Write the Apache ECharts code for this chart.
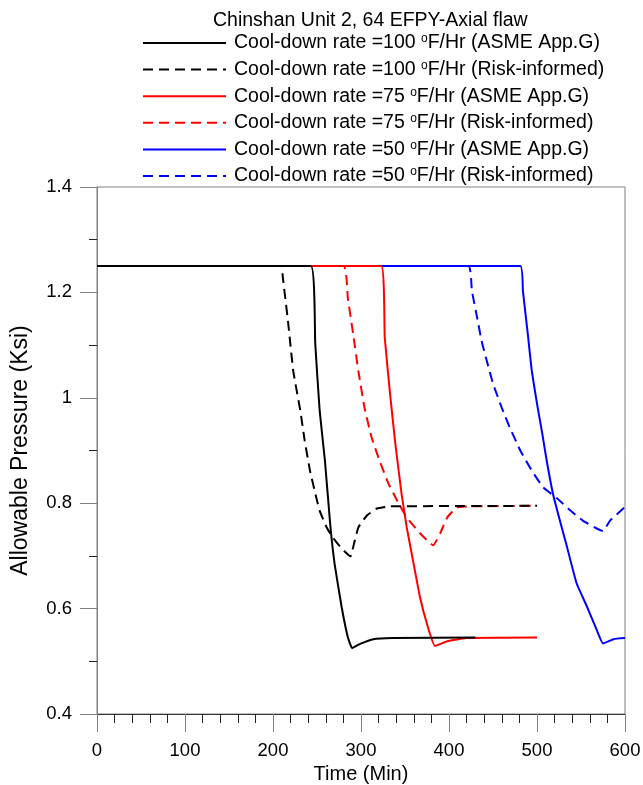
<!DOCTYPE html>
<html lang="en">
<head>
    <meta charset="UTF-8">
    <title>Chinshan Unit 2</title>
    <script src="https://cdn.jsdelivr.net/npm/echarts@6/dist/echarts.min.js"></script>
    <style>
        html, body { margin: 0; padding: 0; background: #fff; }
        #main { width: 643px; height: 785px; }
    </style>
</head>
<body>
<div id="main"></div>
<script>
    // [time (min), allowable pressure (ksi)]
    let asme100 = [[0, 1.25], [243, 1.25], [248, 1.103], [253, 0.976], [259, 0.881], [265, 0.76], [270, 0.685],
        [278, 0.603], [285, 0.546], [290, 0.525], [299, 0.533], [314, 0.542], [336, 0.544], [430, 0.545]];
    let risk100 = [[0, 1.25], [210, 1.25], [211, 1.231], [217, 1.146], [223, 1.051], [231, 0.976], [236, 0.919],
        [242, 0.862], [248, 0.819], [253, 0.786], [261, 0.754], [268, 0.735], [278, 0.714], [288, 0.699],
        [291, 0.716], [297, 0.754], [307, 0.777], [318, 0.79], [333, 0.794], [500, 0.795]];
    let asme75 = [[0, 1.25], [323, 1.25], [327, 1.114], [333, 1.008], [339, 0.913], [346, 0.819],
        [352, 0.754], [359, 0.692], [367, 0.622], [376, 0.565], [384, 0.529], [398, 0.538], [420, 0.544], [500, 0.545]];
    let risk75 = [[0, 1.25], [280, 1.25], [285, 1.19], [291, 1.122], [297, 1.051], [304, 0.981],
        [312, 0.925], [321, 0.881], [331, 0.838], [341, 0.805], [352, 0.773], [367, 0.743], [382, 0.72],
        [390, 0.743], [398, 0.773], [409, 0.792], [424, 0.794], [500, 0.795]];
    let asme50 = [[0, 1.25], [481, 1.25], [484, 1.203], [490, 1.114], [494, 1.052], [500, 0.989],
        [506, 0.932], [511, 0.881], [518, 0.819], [526, 0.767], [533, 0.724], [545, 0.648], [557, 0.603],
        [568, 0.559], [575, 0.534], [587, 0.542], [600, 0.544]];
    let risk50 = [[0, 1.25], [422, 1.25], [426, 1.203], [432, 1.152], [437, 1.108], [443, 1.07],
        [450, 1.027], [460, 0.981], [469, 0.944], [481, 0.9], [494, 0.862], [507, 0.83], [523, 0.809],
        [538, 0.786], [552, 0.767], [568, 0.752], [575, 0.747], [583, 0.767], [598, 0.79], [600, 0.793]];

    let seriesNames = [
        'Cool-down rate =100 {sup|o}F/Hr (ASME App.G)',
        'Cool-down rate =100 {sup|o}F/Hr (Risk-informed)',
        'Cool-down rate =75 {sup|o}F/Hr (ASME App.G)',
        'Cool-down rate =75 {sup|o}F/Hr (Risk-informed)',
        'Cool-down rate =50 {sup|o}F/Hr (ASME App.G)',
        'Cool-down rate =50 {sup|o}F/Hr (Risk-informed)'
    ];
    let seriesData = [asme100, risk100, asme75, risk75, asme50, risk50];
    let colors = ['#000000', '#000000', '#ff0000', '#ff0000', '#0000ff', '#0000ff'];
    let dashed = [false, true, false, true, false, true];

    let axisGrey = '#808080';
    let font = 'Liberation Sans, Arial, sans-serif';

    let myChart = echarts.init(document.getElementById('main'));

    let series = seriesData.map(function (d, i) {
        return {
            name: seriesNames[i],
            type: 'line',
            data: d,
            symbol: 'none',
            smooth: 0.12,
            z: 10 - i,
            lineStyle: {
                color: colors[i],
                width: 2,
                type: dashed[i] ? [10, 6] : 'solid'
            },
            itemStyle: { color: colors[i] }
        };
    });

    let option = {
        animation: false,
        backgroundColor: '#fff',
        textStyle: { fontFamily: font },
        title: {
            text: 'Chinshan Unit 2, 64 EFPY-Axial flaw',
            left: 213,
            top: 11,
            padding: 0,
            textStyle: { fontSize: 19.5, fontWeight: 'normal', color: '#000', fontFamily: font }
        },
        legend: {
            orient: 'vertical',
            left: 142,
            top: 33,
            padding: 0,
            itemWidth: 83,
            itemHeight: 14,
            itemGap: 6.6,
            data: seriesNames,
            itemStyle: { opacity: 0 },
            formatter: function (name) { return name; },
            textStyle: {
                fontSize: 19.5,
                lineHeight: 20,
                color: '#000',
                fontFamily: font,
                padding: [0, 0, 0, 3],
                rich: {
                    sup: { fontSize: 12, lineHeight: 12, verticalAlign: 'top', padding: [0, 0, 6, 0], color: '#000', fontFamily: font }
                }
            }
        },
        grid: {
            left: 97,
            right: 18,
            top: 187,
            bottom: 71,
            outerBoundsMode: 'none',
            show: true,
            borderColor: axisGrey,
            borderWidth: 1
        },
        xAxis: {
            type: 'value',
            min: 0,
            max: 600,
            interval: 100,
            name: 'Time (Min)',
            nameLocation: 'middle',
            nameGap: 46,
            nameTextStyle: { fontSize: 20, color: '#000', fontFamily: font },
            axisLine: { show: true, onZero: false, lineStyle: { color: '#333', width: 1 } },
            axisTick: { show: true, length: 18, lineStyle: { color: axisGrey } },
            minorTick: { show: true, splitNumber: 5, length: 9, lineStyle: { color: '#222' } },
            axisLabel: { fontSize: 18.5, color: '#000', margin: 27, fontFamily: font },
            splitLine: { show: false }
        },
        yAxis: {
            type: 'value',
            min: 0.4,
            max: 1.4,
            interval: 0.2,
            name: 'Allowable Pressure (Ksi)',
            nameLocation: 'middle',
            nameGap: 65,
            nameTextStyle: { fontSize: 23, color: '#000', fontFamily: font },
            axisLine: { show: true, lineStyle: { color: axisGrey, width: 1 } },
            axisTick: { show: true, length: 17, lineStyle: { color: axisGrey } },
            minorTick: { show: true, splitNumber: 2, length: 8, lineStyle: { color: '#222' } },
            axisLabel: { fontSize: 18.5, color: '#000', margin: 25, fontFamily: font },
            splitLine: { show: false }
        },
        series: series
    };

    myChart.setOption(option);
</script>
</body>
</html>
